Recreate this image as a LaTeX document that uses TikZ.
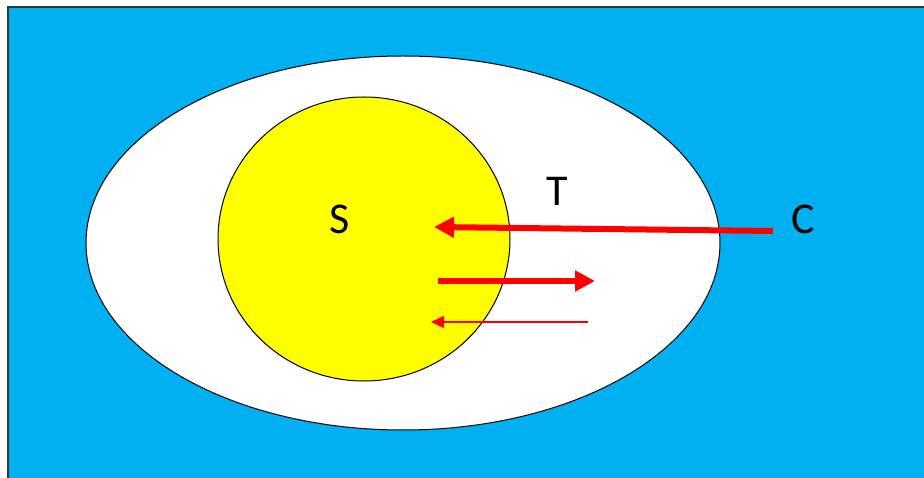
\documentclass[tikz,border=0pt]{standalone}
\usepackage{fontspec}
\setmainfont{Carlito}
\usetikzlibrary{arrows.meta,shapes.geometric}
\definecolor{skyb}{HTML}{00B0F0}
\definecolor{pyel}{HTML}{FFFF00}
\definecolor{pred}{HTML}{FF0000}
\tikzset{
  lbl/.style={font=\fontsize{44}{48}\selectfont, inner sep=0pt, anchor=base},
  bigarr/.style={pred, line width=6pt, -{Triangle[length=20pt,width=20pt]}},
  thinarr/.style={pred, line width=1.4pt, -{Triangle[length=13pt,width=12pt]}}
}
\begin{document}
\begin{tikzpicture}[x=1pt,y=-1pt]
\useasboundingbox (0,0) rectangle (924,478);
\fill[white] (0,0) rectangle (924,478);
\draw[fill=skyb, draw=black!80, line width=2pt] (8,7) rectangle (930,490);
\node[draw=black, line width=1pt, fill=white, ellipse, minimum width=634pt, minimum height=374pt, inner sep=0pt] (T) at (403,243) {};
\node[draw=black, line width=1pt, fill=pyel, ellipse, minimum width=292pt, minimum height=284pt, inner sep=0pt] (S) at (364,239) {};
\node[lbl] (s) at (340,234) {S};
\node[lbl] (t) at (557,206) {T};
\node[lbl] (c) at (803,234) {C};
\coordinate (a1s) at (773,231);
\coordinate (a1e) at (434,227);
\coordinate (a2s) at (438,281);
\coordinate (a2e) at (595,281);
\coordinate (a3s) at (588,322);
\coordinate (a3e) at (431,322);
\draw[bigarr] (a1s) -- (a1e);
\draw[bigarr] (a2s) -- (a2e);
\draw[thinarr] (a3s) -- (a3e);
\end{tikzpicture}
\end{document}
